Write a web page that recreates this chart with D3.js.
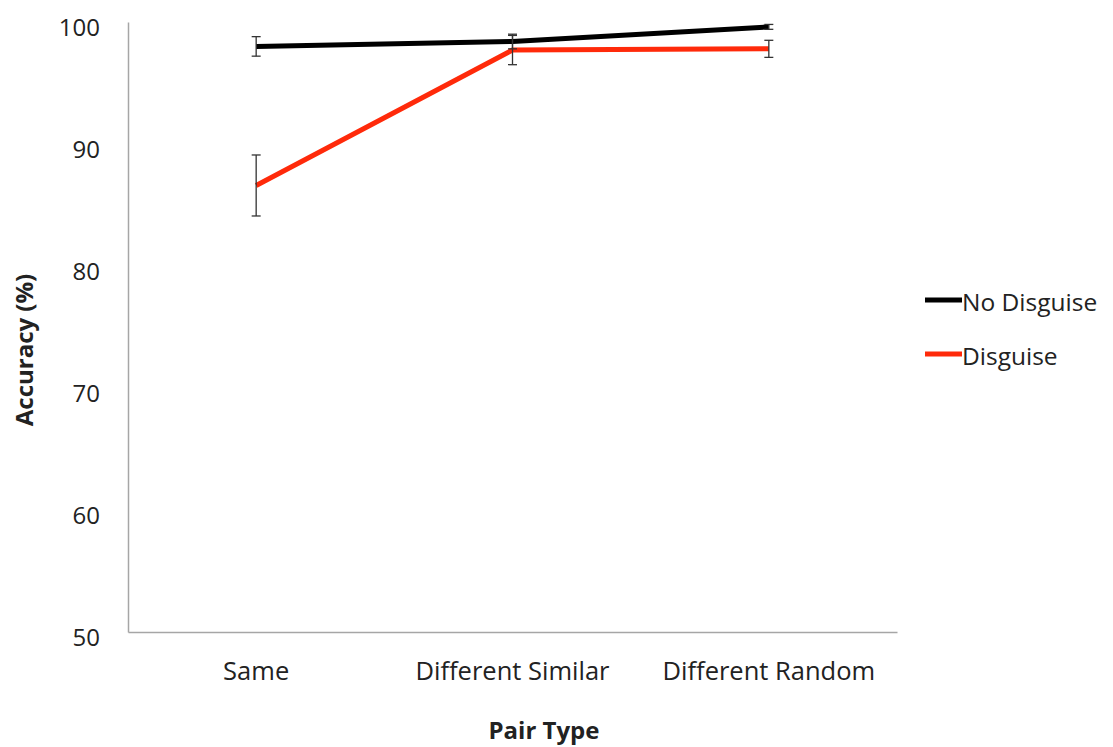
<!DOCTYPE html>
<html>
<head>
<meta charset="utf-8">
<script src="https://cdn.jsdelivr.net/npm/d3@7"></script>
<style>
  html, body { margin: 0; padding: 0; background: #fff; }
  svg { display: block; }
  text { font-family: "Open Sans", "Noto Sans", sans-serif; fill: #222; }
</style>
</head>
<body>
<svg id="chart" width="1113" height="747"></svg>
<script>
const categories = ["Same", "Different Similar", "Different Random"];
const noDisguise = [98.0, 98.4, 99.6];
const noDisguiseErr = [0.8, 0.6, 0.2];
const disguise = [86.6, 97.7, 97.8];
const disguiseErr = [2.5, 1.2, 0.7];
const yTicks = [50, 60, 70, 80, 90, 100];
const seriesNames = ["No Disguise", "Disguise"];
const seriesColors = ["#000000", "#ff2a0a"];

const svg = d3.select("#chart");
const x = d3.scaleBand().domain(categories).range([128, 897]);
const y = d3.scaleLinear().domain([50, 100]).range([632, 22]);

// axes
const yAxis = svg.append("g").attr("transform", "translate(128,0)")
  .call(d3.axisLeft(y).tickValues(yTicks).tickSize(0).tickPadding(28));
yAxis.select(".domain").attr("stroke", "#a6a6a6").attr("stroke-width", 1.5);
yAxis.selectAll("text").style("font-size", "24px").attr("dy", "0.55em").attr("fill", "#222");

const xAxis = svg.append("g").attr("transform", "translate(0,632)")
  .call(d3.axisBottom(x).tickSize(0).tickPadding(30));
xAxis.select(".domain").attr("stroke", "#a6a6a6").attr("stroke-width", 1.5);
xAxis.selectAll("text").style("font-size", "25.5px").attr("fill", "#222");

// axis titles
svg.append("text").attr("transform", "translate(25,350) rotate(-90)")
  .attr("text-anchor", "middle").attr("dy", "0.35em")
  .style("font-size", "24px").style("font-weight", "bold").text("Accuracy (%)");
svg.append("text").attr("x", 544).attr("y", 731)
  .attr("text-anchor", "middle").attr("dy", "0.35em")
  .style("font-size", "24px").style("font-weight", "bold").text("Pair Type");

const cx = c => x(c) + x.bandwidth() / 2;
const series = [
  { name: seriesNames[0], values: noDisguise, err: noDisguiseErr, color: seriesColors[0] },
  { name: seriesNames[1], values: disguise, err: disguiseErr, color: seriesColors[1] }
];

const line = d3.line().x((d, i) => cx(categories[i])).y(d => y(d));

series.forEach(s => {
  svg.append("path").datum(s.values).attr("d", line)
    .attr("fill", "none").attr("stroke", s.color).attr("stroke-width", 5)
    .attr("stroke-linejoin", "round");
});

// error bars
series.forEach(s => {
  const g = svg.append("g");
  s.values.forEach((v, i) => {
    const xc = cx(categories[i]);
    const y1 = y(v + s.err[i]), y2 = y(v - s.err[i]);
    g.append("line").attr("x1", xc).attr("x2", xc).attr("y1", y1).attr("y2", y2)
      .attr("stroke", "#333").attr("stroke-width", 1.3);
    [y1, y2].forEach(yy => g.append("line").attr("x1", xc - 4.5).attr("x2", xc + 4.5)
      .attr("y1", yy).attr("y2", yy).attr("stroke", "#333").attr("stroke-width", 1.3));
  });
});

// legend
const legendY = [300, 354];
series.forEach((s, i) => {
  svg.append("line").attr("x1", 925).attr("x2", 962).attr("y1", legendY[i]).attr("y2", legendY[i])
    .attr("stroke", s.color).attr("stroke-width", 5);
  svg.append("text").attr("x", 962).attr("y", legendY[i] + 2).attr("dy", "0.35em")
    .style("font-size", "24.5px").text(s.name);
});
</script>
</body>
</html>
